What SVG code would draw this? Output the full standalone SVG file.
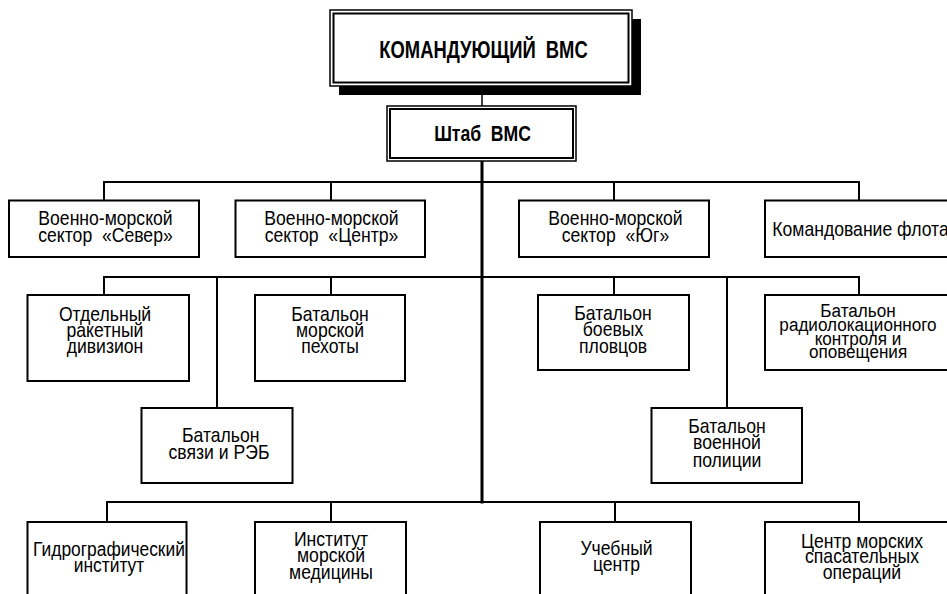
<svg xmlns="http://www.w3.org/2000/svg" width="947" height="594" viewBox="0 0 947 594">
<style>
text{font-family:"Liberation Sans",Arial,sans-serif;font-size:20px;fill:#000;text-anchor:middle;white-space:pre}
.b{font-weight:bold}
.box{fill:#fff;stroke:#000;stroke-width:2}
.o{fill:#fff;stroke:#000;stroke-width:1.5}
.i{fill:none;stroke:#000;stroke-width:2}
.c{fill:none;stroke:#000;stroke-width:2}
</style>
<rect width="947" height="594" fill="#fff"/>
<g id="connectors">
<line x1="482" y1="86" x2="482" y2="106" stroke="#000" stroke-width="1.5"/>
<line x1="482" y1="161" x2="482" y2="503.5" stroke="#000" stroke-width="3"/>
<path class="c" d="M104 200.5V182H859V200.5M331 182V200.5M614 182V200.5"/>
<path class="c" d="M104 295V277H859V295M331 277V295M614 277V295M217 277V408M727 277V408"/>
<path class="c" d="M107 522V502H859V522M331 502V522M615 502V522"/>
</g>
<g id="commander">
<rect x="339" y="19" width="302" height="76" fill="#000"/>
<rect class="o" x="330" y="10" width="302" height="76"/>
<rect class="i" x="333.5" y="13.5" width="295" height="69"/>
<g transform="translate(483.5 0) scale(0.8 1)"><text class="b" x="0" y="58.5" style="font-size:23px">КОМАНДУЮЩИЙ  ВМС</text></g>
</g>
<g id="staff">
<rect class="o" x="387" y="106" width="189" height="55"/>
<rect class="i" x="390" y="109" width="183" height="49"/>
<g transform="translate(482.5 0) scale(0.8 1)"><text class="b" x="0" y="141.5" style="font-size:22px">Штаб  ВМС</text></g>
</g>
<g id="sever">
<rect class="box" x="9" y="200.5" width="190" height="56.5"/>
<g transform="translate(105.5 0) scale(0.88 1)">
<text x="0" y="225">Военно-морской</text>
<text x="0" y="242">сектор  «Север»</text>
</g>
</g>
<g id="centr">
<rect class="box" x="235.5" y="200.5" width="189.5" height="56.5"/>
<g transform="translate(331.5 0) scale(0.88 1)">
<text x="0" y="225">Военно-морской</text>
<text x="0" y="242">сектор  «Центр»</text>
</g>
</g>
<g id="yug">
<rect class="box" x="519" y="200.5" width="190" height="56.5"/>
<g transform="translate(615.5 0) scale(0.88 1)">
<text x="0" y="225">Военно-морской</text>
<text x="0" y="242">сектор  «Юг»</text>
</g>
</g>
<g id="fleet">
<rect class="box" x="765" y="200.5" width="195" height="56.5"/>
<g transform="translate(860.5 0) scale(0.88 1)">
<text x="0" y="236">Командование флота</text>
</g>
</g>
<g id="rocket">
<rect class="box" x="27.5" y="295" width="161.5" height="86"/>
<g transform="translate(105 0) scale(0.88 1)">
<text x="0" y="321.5">Отдельный</text>
<text x="0" y="337">ракетный</text>
<text x="0" y="353">дивизион</text>
</g>
</g>
<g id="marines">
<rect class="box" x="255" y="295" width="150" height="86"/>
<g transform="translate(330 0) scale(0.88 1)">
<text x="0" y="321.5">Батальон</text>
<text x="0" y="337">морской</text>
<text x="0" y="353">пехоты</text>
</g>
</g>
<g id="swimmers">
<rect class="box" x="538" y="295" width="151" height="75"/>
<g transform="translate(613 0) scale(0.88 1)">
<text x="0" y="320">Батальон</text>
<text x="0" y="336.5">боевых</text>
<text x="0" y="353.5">пловцов</text>
</g>
</g>
<g id="radar">
<rect class="box" x="765" y="295" width="195" height="75"/>
<g transform="translate(858 0) scale(0.9 1)" style="font-size:19px">
<text x="0" y="317.5" style="font-size:19px">Батальон</text>
<text x="0" y="331.5" style="font-size:19px">радиолокационного</text>
<text x="0" y="345" style="font-size:19px">контроля и</text>
<text x="0" y="358.5" style="font-size:19px">оповещения</text>
</g>
</g>
<g id="signals">
<rect class="box" x="141.5" y="408" width="151" height="75"/>
<g transform="translate(219 0) scale(0.88 1)">
<text x="2" y="442.5">Батальон</text>
<text x="0" y="459">связи и РЭБ</text>
</g>
</g>
<g id="police">
<rect class="box" x="651.5" y="408" width="150.5" height="75"/>
<g transform="translate(727 0) scale(0.88 1)">
<text x="0" y="433.5">Батальон</text>
<text x="0" y="449.5">военной</text>
<text x="0" y="467">полиции</text>
</g>
</g>
<g id="hydro">
<rect class="box" x="27.5" y="522" width="159" height="90"/>
<g transform="translate(109 0) scale(0.87 1)">
<text x="0" y="556">Гидрографический</text>
<text x="0" y="572.5">институт</text>
</g>
</g>
<g id="medicine">
<rect class="box" x="255" y="522" width="151" height="90"/>
<g transform="translate(331 0) scale(0.88 1)">
<text x="0" y="546.5">Институт</text>
<text x="0" y="562.5">морской</text>
<text x="0" y="579.5">медицины</text>
</g>
</g>
<g id="training">
<rect class="box" x="540" y="522" width="151" height="90"/>
<g transform="translate(616.5 0) scale(0.88 1)">
<text x="0" y="555.5">Учебный</text>
<text x="0" y="571.5">центр</text>
</g>
</g>
<g id="rescue">
<rect class="box" x="765" y="522" width="195" height="90"/>
<g transform="translate(862 0) scale(0.88 1)">
<text x="0" y="548">Центр морских</text>
<text x="0" y="563.5">спасательных</text>
<text x="0" y="579">операций</text>
</g>
</g>
</svg>
